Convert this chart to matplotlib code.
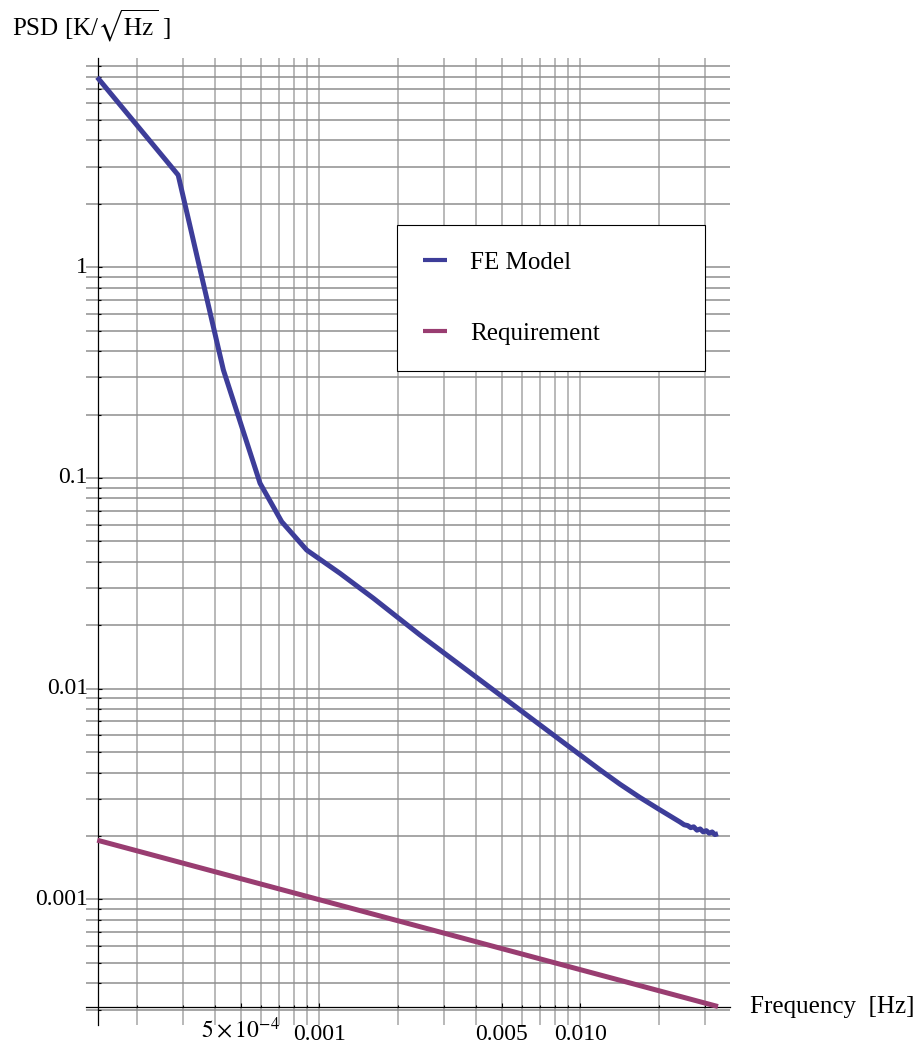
import matplotlib
matplotlib.use('Agg')
import matplotlib.pyplot as plt
from matplotlib import transforms

plt.rcParams['font.family'] = ['Liberation Serif', 'DejaVu Serif']
plt.rcParams['mathtext.fontset'] = 'stix'

# ---------------- data ----------------
fe_freq = [1.41e-4, 2.88e-4, 4.29e-4, 5.93e-4, 7.18e-4, 8.95e-4, 1.20e-3, 1.61e-3,
           2.43e-3, 7.01e-3, 1.19e-2, 1.42e-2, 1.69e-2, 2.00e-2, 2.41e-2, 2.50e-2,
           2.58e-2, 2.65e-2, 2.72e-2, 2.80e-2, 2.88e-2, 2.96e-2, 3.04e-2, 3.12e-2,
           3.20e-2, 3.28e-2, 3.37e-2]
fe_psd = [7.98, 2.74, 0.326, 0.0944, 0.0620, 0.0455, 0.0353, 0.0269,
          0.0180, 0.00673, 0.00412, 0.00352, 0.00305, 0.00268, 0.00233, 0.00226,
          0.00224, 0.00219, 0.00221, 0.00213, 0.00216, 0.00209, 0.00212, 0.00206,
          0.00209, 0.00203, 0.00205]

req_freq = [1.41e-4, 3.37e-2]
req_psd = [1.91e-3, 3.10e-4]

series_labels = ['FE Model', 'Requirement']

x_major = [5e-4, 1e-3, 5e-3, 1e-2]
x_major_labels = [r'$5\times10^{-4}$', '0.001', '0.005', '0.010']
x_minor = [2e-4, 3e-4, 4e-4, 6e-4, 7e-4, 8e-4, 9e-4,
           2e-3, 3e-3, 4e-3, 6e-3, 7e-3, 8e-3, 9e-3, 2e-2, 3e-2]

y_major = [1e-3, 1e-2, 1e-1, 1.0]
y_major_labels = ['0.001', '0.01', '0.1', '1']
y_minor = [3e-4, 4e-4, 5e-4, 6e-4, 7e-4, 8e-4, 9e-4,
           2e-3, 3e-3, 4e-3, 5e-3, 6e-3, 7e-3, 8e-3, 9e-3,
           2e-2, 3e-2, 4e-2, 5e-2, 6e-2, 7e-2, 8e-2, 9e-2,
           0.2, 0.3, 0.4, 0.5, 0.6, 0.7, 0.8, 0.9,
           2, 3, 4, 5, 6, 7, 8, 9]

axis_origin = (1.42e-4, 3.10e-4)

# ---------------- figure ----------------
W, H = 920, 1046
fig = plt.figure(figsize=(W / 100, H / 100), dpi=100)
ax = fig.add_axes([86 / W, 1 - 1025 / H, 644 / W, 967 / H])
ax.set_xscale('log')
ax.set_yscale('log')
ax.set_xlim(1.277e-4, 0.03747)
ax.set_ylim(2.534e-4, 9.849)

blue = '#3d3d99'
mauve = '#993d71'

ax.plot(fe_freq, fe_psd, color=blue, lw=3.6, solid_capstyle='butt',
        solid_joinstyle='round', label=series_labels[0], zorder=3)
ax.plot(req_freq, req_psd, color=mauve, lw=3.6, solid_capstyle='butt',
        label=series_labels[1], zorder=3)

# axes through origin
for s in ['top', 'right']:
    ax.spines[s].set_visible(False)
ax.spines['left'].set_position(('data', axis_origin[0]))
ax.spines['bottom'].set_position(('data', axis_origin[1]))
for s in ['left', 'bottom']:
    ax.spines[s].set_linewidth(0.9)
    ax.spines[s].set_color('black')
    ax.spines[s].set_zorder(2.5)

ax.set_xticks(x_major)
ax.set_xticks(x_minor, minor=True)
ax.set_yticks(y_major)
ax.set_yticks(y_minor, minor=True)
ax.tick_params(which='both', direction='in', labelbottom=False, labelleft=False,
               color='black', width=0.8)
ax.tick_params(which='major', length=3.0)
ax.tick_params(which='minor', length=1.8)

ax.set_axisbelow(True)
ax.xaxis.grid(True, which='both', color='#a6a6a6', lw=1.1)
ax.yaxis.grid(True, which='both', color='#8e8e8e', lw=1.1)

# tick labels
tx = transforms.blended_transform_factory(ax.transData, fig.transFigure)
for v, s in zip(x_major, x_major_labels):
    yb = 1038 if '\\times' in s else 1040
    ax.text(v, 1 - yb / H, s, transform=tx, ha='center', va='baseline',
            fontsize=17, clip_on=False)
ty = transforms.blended_transform_factory(fig.transFigure, ax.transData)
for v, s in zip(y_major, y_major_labels):
    ax.text(88 / W, v, s, transform=ty, ha='right', va='center',
            fontsize=17, clip_on=False)

# axis labels
fig.text(750 / W, 1 - 1007 / H, 'Frequency  [Hz]', ha='left', va='center', fontsize=18)
fig.text(12 / W, 1 - 36 / H, r'PSD [K/$\sqrt{\mathrm{Hz}}$ ]', ha='left',
         va='baseline', fontsize=18)

# legend
leg = ax.legend(loc='upper left',
                bbox_to_anchor=(397 / W, 1 - 369 / H, 308 / W, 144 / H),
                bbox_transform=fig.transFigure, mode='expand', borderaxespad=0,
                fontsize=18, frameon=True, fancybox=False, framealpha=1,
                edgecolor='black', borderpad=1.05, labelspacing=1.94,
                handlelength=0.96, handletextpad=0.92)
leg.get_frame().set_linewidth(0.8)
for h in leg.get_lines():
    h.set_linewidth(3.0)

fig.savefig('out.png', dpi=100)
